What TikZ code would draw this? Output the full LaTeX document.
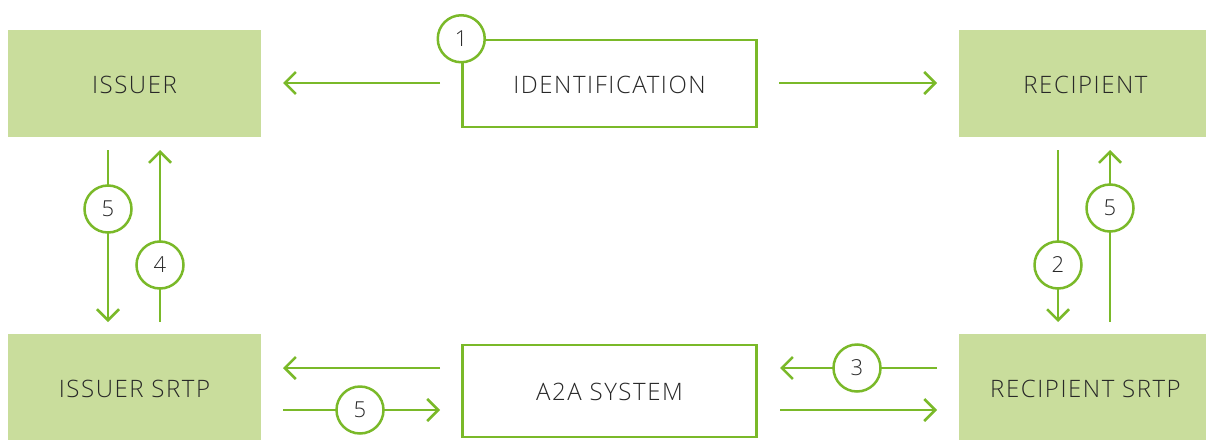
\documentclass[tikz,border=0pt]{standalone}
\usepackage{fontspec}
\setmainfont{Open Sans Light}[LetterSpace=6.5]
\usetikzlibrary{arrows.meta}
\definecolor{leaf}{RGB}{122,185,41}
\definecolor{pale}{RGB}{201,221,156}
\definecolor{ink}{RGB}{40,40,40}
\tikzset{
  party/.style={fill=pale, draw=none, minimum width=253pt, minimum height=107pt,
    inner sep=0pt, text=ink, text height=19pt, text depth=0pt,
    font=\fontsize{24pt}{28pt}\selectfont},
  hub/.style={fill=white, draw=leaf, line width=2.5pt, minimum width=294pt,
    inner sep=0pt, text=ink, text height=19pt, text depth=0pt,
    font=\fontsize{24pt}{28pt}\selectfont},
  badge/.style={circle, fill=white, draw=leaf, line width=2.5pt, minimum size=47pt,
    inner sep=0pt, text=ink, font=\fontsize{22pt}{24pt}\selectfont},
  flow/.style={draw=leaf, line width=2.5pt, -{Straight Barb[length=11pt,width=22pt,line width=2.5pt]}}
}
\begin{document}
\begin{tikzpicture}[x=1pt,y=-1pt]
\useasboundingbox (0,0) rectangle (1206,439);
% parties
\node[party] (iss)  at (134.5,83.5) {ISSUER};
\node[party] (rec)  at (1085.5,83.5) {RECIPIENT};
\node[party] (isrtp) at (134.5,387.5) {ISSUER SRTP};
\node[party] (rsrtp) at (1085.5,387.5) {RECIPIENT SRTP};
% central boxes
\node[hub, minimum height=87pt] (idf) at (609.5,83.5) {IDENTIFICATION};
\node[hub, minimum height=92pt] (a2a) at (609.5,391) {A2A SYSTEM};
\node[badge] (b1) at (idf.north west) {1};
% arrow end points
\coordinate (t1a) at (440,83);  \coordinate (t1b) at (283,83);
\coordinate (t2a) at (779,83);  \coordinate (t2b) at (937,83);
\coordinate (l5a) at (108,150); \coordinate (l5b) at (108,322);
\coordinate (l4a) at (160,322); \coordinate (l4b) at (160,150);
\coordinate (r2a) at (1058,150); \coordinate (r2b) at (1058,322);
\coordinate (r5a) at (1110,322); \coordinate (r5b) at (1110,150);
\coordinate (bla) at (440,368); \coordinate (blb) at (283,368);
\coordinate (b5a) at (283,410); \coordinate (b5b) at (440,410);
\coordinate (bra) at (937,368); \coordinate (brb) at (780,368);
\coordinate (b6a) at (780,410); \coordinate (b6b) at (937,410);
% connectors
\draw[flow] (t1a) -- (t1b);
\draw[flow] (t2a) -- (t2b);
\draw[flow] (l5a) -- (l5b);
\draw[flow] (l4a) -- (l4b);
\draw[flow] (r2a) -- (r2b);
\draw[flow] (r5a) -- (r5b);
\draw[flow] (bla) -- (blb);
\draw[flow] (b5a) -- (b5b);
\draw[flow] (bra) -- (brb);
\draw[flow] (b6a) -- (b6b);
% step badges
\node[badge] (s5l) at (108,209) {5};
\node[badge] (s4)  at (160,265) {4};
\node[badge] (s2)  at (1058,265) {2};
\node[badge] (s5r) at (1110,208) {5};
\node[badge] (s5b) at (360,410) {5};
\node[badge] (s3)  at (857,368) {3};
\end{tikzpicture}
\end{document}
